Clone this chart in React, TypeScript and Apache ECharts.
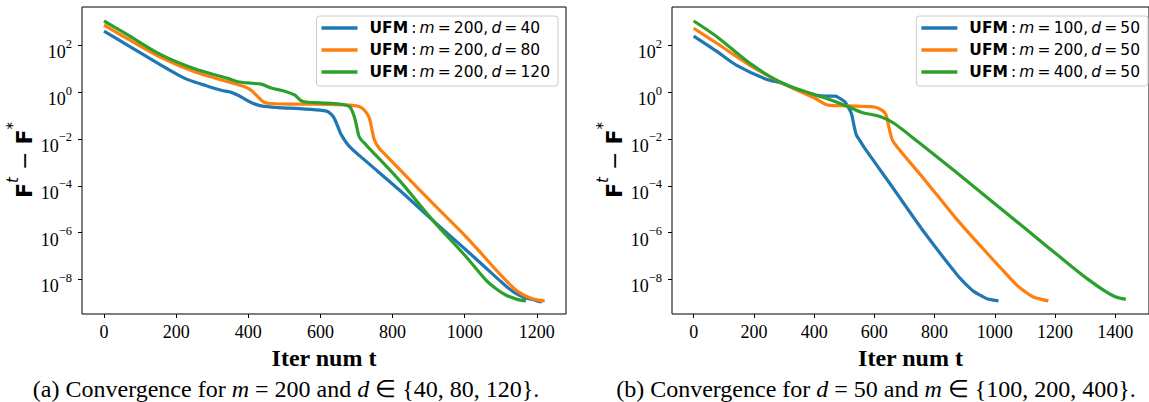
import React, { useEffect, useRef } from "react";
import * as echarts from "echarts";

// ---------- tick values ----------
const xTicksA = [0, 200, 400, 600, 800, 1000, 1200];
const xTicksB = [0, 200, 400, 600, 800, 1000, 1200, 1400];
const yTickExps = [-8, -6, -4, -2, 0, 2];

// ---------- series names ----------
const namesA = ["UFM: m = 200, d = 40", "UFM: m = 200, d = 80", "UFM: m = 200, d = 120"];
const namesB = ["UFM: m = 100, d = 50", "UFM: m = 200, d = 50", "UFM: m = 400, d = 50"];
const colors = ["#1f77b4", "#ff7f0e", "#2ca02c"];

// ---------- (a) m = 200 ----------
const tA40 = [0, 66, 159, 224, 279, 325, 353, 380, 408, 436, 482, 542, 600, 620, 636, 648, 658, 681, 727, 819, 911, 1004, 1050, 1096, 1120, 1142, 1165, 1188, 1200, 1214];
const gA40 = [4.1e2, 1.0e2, 14, 3.9, 2.0, 1.2, 0.98, 0.63, 0.36, 0.26, 0.22, 0.2, 0.17, 0.15, 0.089, 0.035, 0.015, 4.7e-3, 1.1e-3, 6.6e-5, 3.4e-6, 1.8e-7, 4.1e-8, 9.3e-9, 4.4e-9, 2.5e-9, 1.7e-9, 1.4e-9, 1.2e-9, 1.1e-9];

const tA80 = [0, 66, 159, 251, 343, 390, 408, 427, 445, 473, 542, 621, 681, 705, 717, 728, 736, 743, 750, 763, 782, 911, 1004, 1050, 1096, 1142, 1165, 1188, 1205, 1222];
const gA80 = [7.4e2, 1.9e2, 30, 7.4, 2.8, 1.7, 1.2, 0.63, 0.36, 0.32, 0.31, 0.3, 0.28, 0.25, 0.2, 0.13, 0.076, 0.025, 8.9e-3, 4.0e-3, 2.0e-3, 1.8e-5, 6.6e-7, 1.1e-7, 1.8e-8, 3.5e-9, 2.1e-9, 1.5e-9, 1.3e-9, 1.2e-9];

const tA120 = [0, 66, 159, 251, 343, 371, 410, 436, 464, 501, 528, 545, 560, 600, 653, 681, 694, 701, 708, 727, 819, 911, 1004, 1059, 1090, 1115, 1145, 1170];
const gA120 = [1.1e3, 2.8e2, 39, 10, 3.9, 2.8, 2.4, 2.2, 1.5, 1.1, 0.76, 0.45, 0.38, 0.35, 0.31, 0.24, 0.089, 0.032, 0.012, 5.5e-3, 1.7e-4, 3.4e-6, 9.3e-8, 9.3e-9, 3.7e-9, 2.1e-9, 1.4e-9, 1.2e-9];

// ---------- (b) d = 50 ----------
const tB100 = [0, 78, 143, 241, 295, 350, 404, 442, 469, 490, 502, 523, 532, 540, 551, 572, 659, 768, 876, 905, 931, 955, 974, 995, 1012];
const gB100 = [2.5e2, 54, 14, 3.6, 2.4, 1.2, 0.76, 0.68, 0.68, 0.5, 0.39, 0.13, 0.04, 0.015, 8.9e-3, 3.4e-3, 9.1e-5, 9.3e-7, 1.5e-8, 6.0e-9, 3.0e-9, 2.0e-9, 1.5e-9, 1.3e-9, 1.2e-9];

const tB200 = [0, 78, 187, 295, 404, 447, 513, 589, 615, 637, 648, 659, 675, 768, 876, 985, 1030, 1072, 1100, 1126, 1155, 1178];
const gB200 = [5.4e2, 1.2e2, 14, 2.4, 0.54, 0.28, 0.26, 0.24, 0.2, 0.12, 0.033, 9.5e-3, 4.7e-3, 1.74e-4, 3.4e-6, 9.3e-8, 2.2e-8, 5.8e-9, 3.0e-9, 1.8e-9, 1.4e-9, 1.2e-9];

const tB400 = [0, 78, 187, 295, 404, 442, 513, 556, 621, 665, 751, 876, 1093, 1256, 1310, 1365, 1400, 1435];
const gB400 = [1.1e3, 2.3e2, 17, 2.4, 0.76, 0.54, 0.24, 0.14, 0.089, 0.047, 6.5e-3, 3.4e-4, 1.8e-6, 3.5e-8, 1.0e-8, 3.2e-9, 1.8e-9, 1.4e-9];

const Y_MIN = -9.48;
const Y_MAX = 3.64;

const SERIF = "Liberation Serif";
const SANS = "DejaVu Sans";

function pairs(t: number[], g: number[]) {
  return t.map((x, i) => [x, Math.log10(g[i])]);
}

function legendFormatter(name: string) {
  const m = /m = (\d+), d = (\d+)/.exec(name);
  const mv = m ? m[1] : "";
  const dv = m ? m[2] : "";
  return `{sp|}{b|UFM}{n|\u2009:\u2009}{i|m}{n|\u2009=\u2009${mv},\u2009}{i|d}{n|\u2009=\u2009${dv}}`;
}

const LFS = 15.5;
const legendRich = {
  sp: { width: 7 },
  b: { fontFamily: SANS, fontWeight: "bold", fontSize: LFS, color: "#000", lineHeight: 17 },
  n: { fontFamily: SANS, fontSize: LFS, color: "#000", lineHeight: 17 },
  i: { fontFamily: SANS, fontStyle: "italic", fontSize: LFS, color: "#000", lineHeight: 17 },
};

function yLabelFormatter(v: number) {
  const e = Math.round(v);
  const s = e < 0 ? "\u2212" + -e : String(e);
  return `{b|10}{s|${s}}`;
}

function makeXAxis(idx: number, min: number, max: number, ticks: number[]) {
  return {
    type: "value",
    gridIndex: idx,
    min,
    max,
    splitNumber: 6,
    splitLine: { show: false },
    axisLine: { show: false, onZero: false },
    axisTick: { show: true, length: 4, lineStyle: { color: "#000", width: 1 }, customValues: ticks },
    axisLabel: {
      customValues: ticks,
      margin: 9,
      fontFamily: SERIF,
      fontSize: 18,
      color: "#000",
      formatter: (v: number) => String(v),
    },
    name: "Iter num t",
    nameLocation: "middle",
    nameGap: 31,
    nameTextStyle: { fontFamily: SERIF, fontWeight: "bold", fontSize: 24, color: "#000" },
  };
}

function makeYAxis(idx: number) {
  return {
    type: "value",
    gridIndex: idx,
    min: Y_MIN,
    max: Y_MAX,
    splitNumber: 6,
    splitLine: { show: false },
    axisLine: { show: false, onZero: false },
    axisTick: { show: true, length: 4, lineStyle: { color: "#000", width: 1 }, customValues: yTickExps },
    axisLabel: {
      customValues: yTickExps,
      margin: 10,
      padding: [8, 0, 0, 0],
      formatter: yLabelFormatter,
      rich: {
        b: { fontFamily: SERIF, fontSize: 18, color: "#000", lineHeight: 24, verticalAlign: "bottom" },
        s: { fontFamily: SERIF, fontSize: 12.5, color: "#000", lineHeight: 12, verticalAlign: "top" },
      },
    },
  };
}

function makeSeries(name: string, t: number[], g: number[], color: string, idx: number) {
  return {
    type: "line",
    name,
    xAxisIndex: idx,
    yAxisIndex: idx,
    data: pairs(t, g),
    showSymbol: false,
    symbol: "none",
    smooth: 0.3,
    color,
    lineStyle: { color, width: 3.2 },
    z: 3,
  };
}

function yNameGraphic(x: number) {
  return {
    type: "text",
    x,
    y: 160,
    rotation: Math.PI / 2,
    style: {
      text: "{F|F}{s|t}{m| \u2212 }{F|F}{s|*}",
      align: "center",
      verticalAlign: "middle",
      rich: {
        F: { fontFamily: SANS, fontWeight: "bold", fontSize: 22, lineHeight: 30, verticalAlign: "bottom", fill: "#000" },
        s: { fontFamily: SANS, fontStyle: "italic", fontSize: 15, lineHeight: 15, verticalAlign: "top", fill: "#000" },
        m: { fontFamily: SANS, fontSize: 22, lineHeight: 30, verticalAlign: "bottom", fill: "#000" },
      },
    },
  };
}

function captionGraphic(x: number, text: string) {
  return {
    type: "text",
    x,
    y: 389,
    style: {
      text,
      align: "center",
      verticalAlign: "middle",
      fontFamily: SERIF,
      fontSize: 24,
      fill: "#000",
      rich: {
        i: { fontFamily: SERIF, fontStyle: "italic", fontSize: 24, fill: "#000" },
      },
    },
  };
}

function makeLegend(names: string[], right: number) {
  return {
    data: names,
    orient: "vertical",
    right,
    top: 16,
    icon: "rect",
    itemWidth: 36,
    itemHeight: 3.5,
    itemGap: 6,
    padding: [4, 8, 6, 5],
    borderColor: "#cccccc",
    borderWidth: 1,
    borderRadius: 3,
    backgroundColor: "rgba(255,255,255,0.8)",
    formatter: legendFormatter,
    textStyle: { rich: legendRich },
  };
}

export default function App() {
  const ref = useRef<HTMLDivElement>(null);
  useEffect(() => {
    document.body.style.margin = "0";
    if (!ref.current) return;
    const chart = echarts.init(ref.current, undefined, { renderer: "svg" });
    const option = {
      animation: false,
      backgroundColor: "#fff",
      grid: [
        { left: 82, top: 7, width: 484, height: 307, show: true, borderColor: "#000", borderWidth: 1, backgroundColor: "transparent", containLabel: false },
        { left: 672, top: 7, width: 486, height: 307, show: true, borderColor: "#000", borderWidth: 1, backgroundColor: "transparent", containLabel: false },
      ],
      xAxis: [makeXAxis(0, -61, 1281, xTicksA), makeXAxis(1, -72, 1512, xTicksB)],
      yAxis: [makeYAxis(0), makeYAxis(1)],
      legend: [makeLegend(namesA, 591), makeLegend(namesB, 1)],
      graphic: [
        yNameGraphic(20),
        yNameGraphic(610),
        captionGraphic(286, "(a) Convergence for {i|m} = 200 and {i|d} \u2208 {40, 80, 120}."),
        captionGraphic(876, "(b) Convergence for {i|d} = 50 and {i|m} \u2208 {100, 200, 400}."),
      ],
      series: [
        makeSeries(namesA[0], tA40, gA40, colors[0], 0),
        makeSeries(namesA[1], tA80, gA80, colors[1], 0),
        makeSeries(namesA[2], tA120, gA120, colors[2], 0),
        makeSeries(namesB[0], tB100, gB100, colors[0], 1),
        makeSeries(namesB[1], tB200, gB200, colors[1], 1),
        makeSeries(namesB[2], tB400, gB400, colors[2], 1),
      ],
    };
    chart.setOption(option as any);
    return () => chart.dispose();
  }, []);
  return <div ref={ref} style={{ width: 1149, height: 402 }} />;
}
